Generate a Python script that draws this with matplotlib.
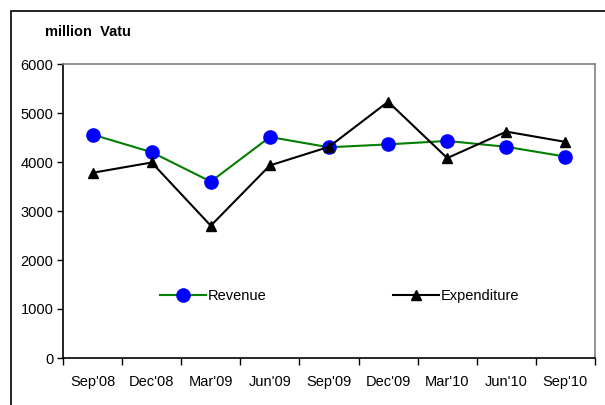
import numpy as np
import matplotlib
matplotlib.use("Agg")
import matplotlib.pyplot as plt
from matplotlib.patches import Rectangle

plt.rcParams["font.family"] = ["Liberation Sans", "DejaVu Sans"]

quarters = ["Sep'08", "Dec'08", "Mar'09", "Jun'09", "Sep'09", "Dec'09", "Mar'10", "Jun'10", "Sep'10"]
revenue = [4560, 4200, 3600, 4510, 4300, 4360, 4430, 4310, 4110]
expenditure = [3780, 3990, 2700, 3930, 4310, 5230, 4080, 4620, 4410]
yticks = [0, 1000, 2000, 3000, 4000, 5000, 6000]

fig = plt.figure(figsize=(6.05, 4.05), dpi=100)
ax = fig.add_axes([63 / 605, 1 - 358 / 405, 532 / 605, 294 / 405])

# outer chart frame
fig.patches.append(Rectangle((11 / 605, -0.2), 1.2, 1.2 - 11 / 405,
                             transform=fig.transFigure, fill=False,
                             edgecolor="black", lw=1.2))

x = np.arange(len(quarters))
ax.plot(x, revenue, color="#008000", lw=1.5, marker="o", ms=9.5,
        mfc="blue", mec="blue", label="Revenue")
ax.plot(x, expenditure, color="black", lw=1.5, marker="^", ms=7,
        mfc="black", mec="black", label="Expenditure")

ax.set_xlim(-0.5, len(quarters) - 0.5)
ax.set_ylim(0, 6000)
ax.set_yticks(yticks)
ax.set_yticklabels([str(v) for v in yticks], fontsize=10.5)
ax.set_xticks(x)
ax.set_xticklabels(quarters, fontsize=10.5)
ax.tick_params(axis="x", which="major", length=0, pad=12)
ax.set_xticks(np.arange(len(quarters) + 1) - 0.5, minor=True)
ax.tick_params(axis="x", which="minor", length=5, width=1)
ax.tick_params(axis="y", length=4, width=1, pad=3)

ax.spines["left"].set_color("black")
ax.spines["bottom"].set_color("black")
ax.spines["top"].set_color("#808080")
ax.spines["right"].set_color("#808080")
for s in ax.spines.values():
    s.set_linewidth(1.2)

fig.text(45 / 605, 1 - 32 / 405, "million  Vatu", fontsize=10.5, fontweight="bold",
         va="center", ha="left")

ax.legend(loc="center", bbox_to_anchor=(0.52, 1265 / 6000), ncol=2, frameon=False,
          fontsize=10.5, columnspacing=8.7, handlelength=3.15, handletextpad=0.1)

fig.savefig("out.png", dpi=100)
